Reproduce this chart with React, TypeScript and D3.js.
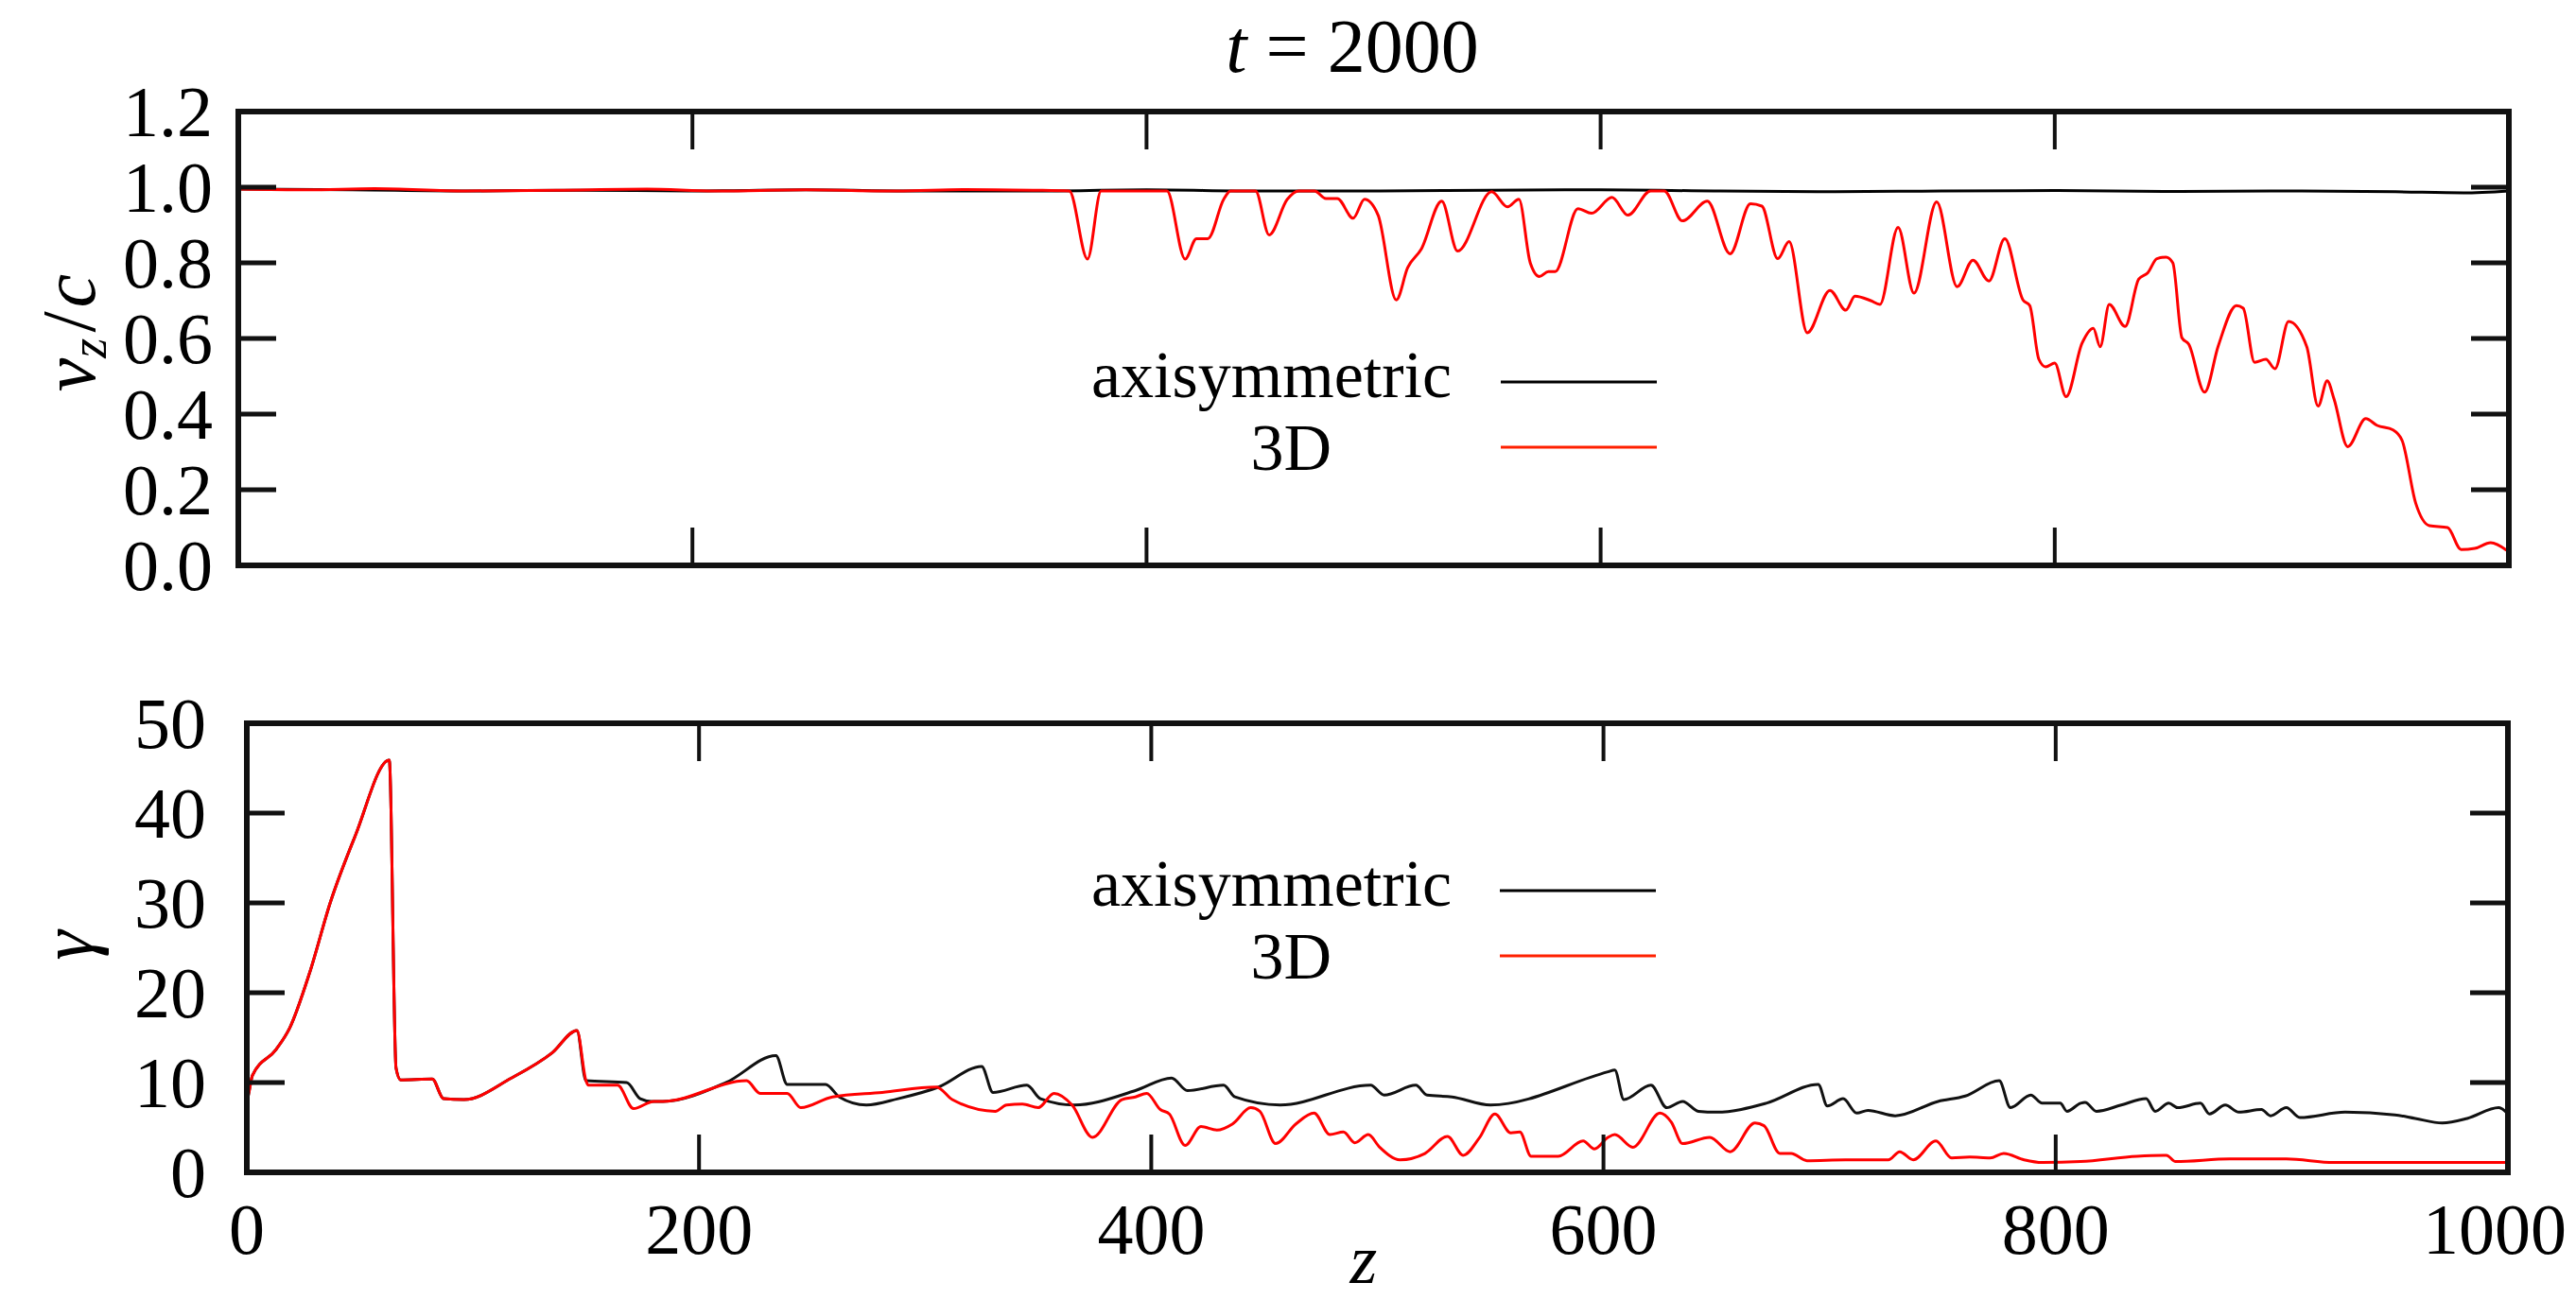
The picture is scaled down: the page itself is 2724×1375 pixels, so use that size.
import React, { useEffect } from "react";
import * as d3 from "d3";

// velocity v_z/c vs z, top panel
const velAxisym: [number, number][] = [
  [0, 0.995], [50, 0.993], [100, 0.99], [150, 0.992], [200, 0.99], [250, 0.993],
  [300, 0.99], [350, 0.99], [400, 0.993], [450, 0.99], [500, 0.99], [550, 0.992],
  [600, 0.993], [650, 0.99], [700, 0.988], [750, 0.99], [800, 0.991], [850, 0.989],
  [900, 0.99], [950, 0.988], [980, 0.985], [1000, 0.99],
];
const vel3D: [number, number][] = [
  [0, 0.995], [30, 0.993], [60, 0.996], [100, 0.99], [140, 0.992], [180, 0.995],
  [210, 0.99], [250, 0.993], [290, 0.99], [320, 0.994], [350, 0.992], [366, 0.99],
  [374, 0.81], [380, 0.99], [409, 0.99], [417, 0.81], [422, 0.864], [427, 0.864],
  [434, 0.968], [437, 0.99], [448, 0.99], [454, 0.874], [462, 0.968], [467, 0.99],
  [474, 0.99], [479, 0.97], [484, 0.97], [491, 0.918], [496, 0.968], [502, 0.926],
  [510, 0.702], [515, 0.787], [521, 0.836], [530, 0.963], [537, 0.831], [552, 0.988],
  [559, 0.948], [564, 0.968], [569, 0.8], [573, 0.764], [577, 0.777], [580, 0.777],
  [590, 0.943], [596, 0.931], [605, 0.973], [612, 0.926], [622, 0.99], [628, 0.99],
  [636, 0.911], [647, 0.963], [657, 0.824], [666, 0.956], [671, 0.95], [678, 0.811],
  [683, 0.856], [691, 0.615], [701, 0.727], [708, 0.675], [712, 0.712], [719, 0.7],
  [723, 0.69], [731, 0.894], [738, 0.72], [748, 0.961], [757, 0.737], [764, 0.807],
  [771, 0.752], [778, 0.864], [786, 0.702], [789, 0.687], [793, 0.545], [796, 0.525],
  [800, 0.535], [805, 0.446], [812, 0.587], [817, 0.627], [820, 0.578], [824, 0.69],
  [831, 0.632], [837, 0.757], [841, 0.774], [845, 0.811], [849, 0.815], [852, 0.8],
  [856, 0.602], [859, 0.585], [866, 0.458], [872, 0.58], [880, 0.687], [883, 0.68],
  [888, 0.537], [893, 0.545], [897, 0.52], [903, 0.645], [911, 0.578], [916, 0.421],
  [920, 0.488], [923, 0.44], [929, 0.314], [937, 0.388], [942, 0.37], [949, 0.358],
  [953, 0.33], [959, 0.164], [965, 0.105], [973, 0.1], [979, 0.042], [985, 0.045],
  [992, 0.06], [999, 0.04],
];

// Lorentz factor gamma vs z, bottom panel
const gamAxisym: [number, number][] = [
  [0, 7.7], [1, 9], [2.5, 10.8], [13, 13.7], [19, 16.1], [28, 22.4], [37, 30.1],
  [48, 37.5], [63, 45.9], [66, 11.6], [68, 10.3], [82, 10.4], [87, 8.2], [96, 8.1],
  [117, 10.5], [135, 13.3], [146, 15.8], [150, 10.2], [168, 10], [174, 8.2], [179, 7.9],
  [184, 7.9], [212, 10], [234, 13], [239, 9.8], [256, 9.8], [262, 8.4], [274, 7.5],
  [288, 8.2], [306, 9.5], [325, 11.8], [330, 8.9], [345, 9.7], [351, 8.2], [366, 7.5],
  [393, 9.1], [409, 10.5], [416, 9.1], [432, 9.7], [437, 8.4], [457, 7.5], [497, 9.7],
  [503, 8.6], [517, 9.7], [522, 8.6], [533, 8.4], [550, 7.5], [602, 11.2], [605, 11.4],
  [609, 8.1], [621, 9.7], [628, 7.2], [635, 7.9], [642, 6.8], [650, 6.7], [672, 7.7],
  [695, 9.8], [699, 7.4], [706, 8.2], [712, 6.6], [717, 6.9], [729, 6.3], [748, 7.9],
  [760, 8.5], [775, 10.2], [780, 7.2], [789, 8.6], [794, 7.7], [802, 7.7], [805, 6.8],
  [811, 7.7], [813, 7.8], [818, 6.8], [829, 7.5], [840, 8.2], [844, 6.8], [850, 7.7],
  [854, 7.2], [864, 7.7], [868, 6.5], [875, 7.5], [881, 6.7], [891, 7], [895, 6.3],
  [902, 7.2], [908, 6.1], [928, 6.7], [950, 6.4], [959, 6], [971, 5.5], [982, 6],
  [996, 7.2], [1000, 6.5],
];
const gam3D: [number, number][] = [
  [0, 7.7], [1, 9], [2.5, 10.8], [13, 13.7], [19, 16.1], [28, 22.4], [37, 30.1],
  [48, 37.5], [63, 45.9], [66, 11.6], [68, 10.3], [82, 10.4], [87, 8.2], [96, 8.1],
  [117, 10.5], [135, 13.3], [146, 15.8], [150, 10.2], [151, 9.7], [164, 9.7], [171, 7.1],
  [180, 7.9], [184, 7.9], [221, 10.2], [227, 8.8], [239, 8.8], [245, 7.2], [259, 8.4],
  [281, 8.9], [305, 9.5], [312, 8.1], [331, 6.8], [336, 7.5], [343, 7.6], [350, 7.2],
  [357, 8.8], [365, 7.5], [374, 3.9], [387, 8.1], [393, 8.4], [398, 8.8], [404, 7],
  [408, 6.5], [415, 3], [422, 5.1], [429, 4.7], [436, 5.4], [444, 7.2], [448, 6.8],
  [455, 3.2], [464, 5.4], [472, 6.6], [479, 4.2], [485, 4.5], [490, 3.3], [496, 4.2],
  [501, 2.8], [510, 1.4], [521, 2.1], [531, 4], [538, 1.9], [545, 3.8], [552, 6.5],
  [559, 4.4], [563, 4.5], [568, 1.8], [580, 1.8], [591, 3.5], [596, 2.6], [602, 3.9],
  [605, 4.2], [613, 2.8], [625, 6.6], [630, 5.6], [635, 3.2], [647, 3.9], [656, 2.3],
  [667, 5.5], [671, 5.2], [678, 2.1], [683, 2.1], [690, 1.3], [707, 1.4], [726, 1.4],
  [731, 2.3], [737, 1.4], [747, 3.5], [754, 1.6], [762, 1.7], [771, 1.6], [777, 2.1],
  [786, 1.4], [794, 1.1], [811, 1.2], [836, 1.8], [849, 1.9], [853, 1.2], [877, 1.5],
  [902, 1.5], [923, 1.1], [1000, 1.1],
];

const zTicks = [0, 200, 400, 600, 800, 1000];
const velTicks = [0, 0.2, 0.4, 0.6, 0.8, 1.0, 1.2];
const gamTicks = [0, 10, 20, 30, 40, 50];
const legendNames = ["axisymmetric", "3D"];

const FONT = "'Liberation Serif', 'Times New Roman', serif";
const TICK = 40;

function Frame({ x, y, ticksX, ticksY }: any) {
  const [x0, x1] = x.range();
  const [y0, y1] = y.range();
  return (
    <g stroke="#111" fill="none">
      {ticksX.map((t: number) => (
        <g key={"x" + t} strokeWidth={4}>
          <line x1={x(t)} x2={x(t)} y1={y0} y2={y0 - TICK} />
          <line x1={x(t)} x2={x(t)} y1={y1} y2={y1 + TICK} />
        </g>
      ))}
      {ticksY.map((t: number) => (
        <g key={"y" + t} strokeWidth={5}>
          <line x1={x0} x2={x0 + TICK} y1={y(t)} y2={y(t)} />
          <line x1={x1} x2={x1 - TICK} y1={y(t)} y2={y(t)} />
        </g>
      ))}
      <rect x={x0} y={y1} width={x1 - x0} height={y0 - y1} strokeWidth={6} />
    </g>
  );
}

export default function App() {
  useEffect(() => {
    document.body.style.margin = "0";
  }, []);

  const xTop = d3.scaleLinear().domain([0, 1000]).range([252, 2653]);
  const yTop = d3.scaleLinear().domain([0, 1.2]).range([598, 118]);
  const xBot = d3.scaleLinear().domain([0, 1000]).range([261, 2652]);
  const yBot = d3.scaleLinear().domain([0, 50]).range([1240, 765]);

  const lineTop = d3.line<[number, number]>()
    .x(d => xTop(d[0])).y(d => yTop(d[1])).curve(d3.curveMonotoneX);
  const lineBot = d3.line<[number, number]>()
    .x(d => xBot(d[0])).y(d => yBot(d[1])).curve(d3.curveMonotoneX);

  const legend = (lx: number, ly: number, textEnds: number[], gap: number) => (
    <g fontFamily={FONT} fontSize={70}>
      <text x={textEnds[0]} y={ly + 16} textAnchor="end">{legendNames[0]}</text>
      <line x1={lx} x2={lx + 165} y1={ly} y2={ly} stroke="#000" strokeWidth={3} />
      <text x={textEnds[1]} y={ly + gap + 24} textAnchor="end">{legendNames[1]}</text>
      <line x1={lx} x2={lx + 165} y1={ly + gap} y2={ly + gap} stroke="#ff2000" strokeWidth={3} />
    </g>
  );

  return (
    <svg width={2724} height={1375} style={{ display: "block", background: "#fff" }}>
      {/* title */}
      <text x={1430} y={76} textAnchor="middle" fontFamily={FONT} fontSize={80}>
        <tspan fontStyle="italic">t</tspan> = 2000
      </text>

      {/* top panel */}
      <path d={lineTop(velAxisym) || ""} fill="none" stroke="#000" strokeWidth={3} />
      <path d={lineTop(vel3D) || ""} fill="none" stroke="#ff0000" strokeWidth={3} />
      <Frame x={xTop} y={yTop} ticksX={zTicks} ticksY={velTicks} />
      <g fontFamily={FONT} fontSize={76} textAnchor="end">
        {velTicks.map(t => (
          <text key={t} x={225} y={yTop(t) + 26}>{t.toFixed(1)}</text>
        ))}
      </g>
      <text transform="translate(100,352) rotate(-90)" textAnchor="middle" fontFamily={FONT} fontSize={80}>
        <tspan fontStyle="italic">v</tspan>
        <tspan fontStyle="italic" fontSize={54} dy={12}>z</tspan>
        <tspan dy={-12} dx={6}>/</tspan>
        <tspan fontStyle="italic" dx={4}>c</tspan>
      </text>
      {legend(1587, 404, [1535, 1408], 69)}

      {/* bottom panel */}
      <path d={lineBot(gamAxisym) || ""} fill="none" stroke="#111" strokeWidth={3} />
      <path d={lineBot(gam3D) || ""} fill="none" stroke="#ff0000" strokeWidth={3} />
      <Frame x={xBot} y={yBot} ticksX={zTicks} ticksY={gamTicks} />
      <g fontFamily={FONT} fontSize={76} textAnchor="end">
        {gamTicks.map(t => (
          <text key={t} x={218} y={yBot(t) + 26}>{t}</text>
        ))}
      </g>
      <g fontFamily={FONT} fontSize={76} textAnchor="middle">
        {zTicks.map(t => (
          <text key={t} x={xBot(t) - (t === 1000 ? 14 : 0)} y={1326}>{t}</text>
        ))}
      </g>
      <text transform="translate(98,1000) rotate(-90)" textAnchor="middle" fontFamily={FONT} fontSize={80} fontStyle="italic">γ</text>
      <text x={1442} y={1357} textAnchor="middle" fontFamily={FONT} fontSize={74} fontStyle="italic">z</text>
      {legend(1586, 942, [1535, 1408], 69)}
    </svg>
  );
}
